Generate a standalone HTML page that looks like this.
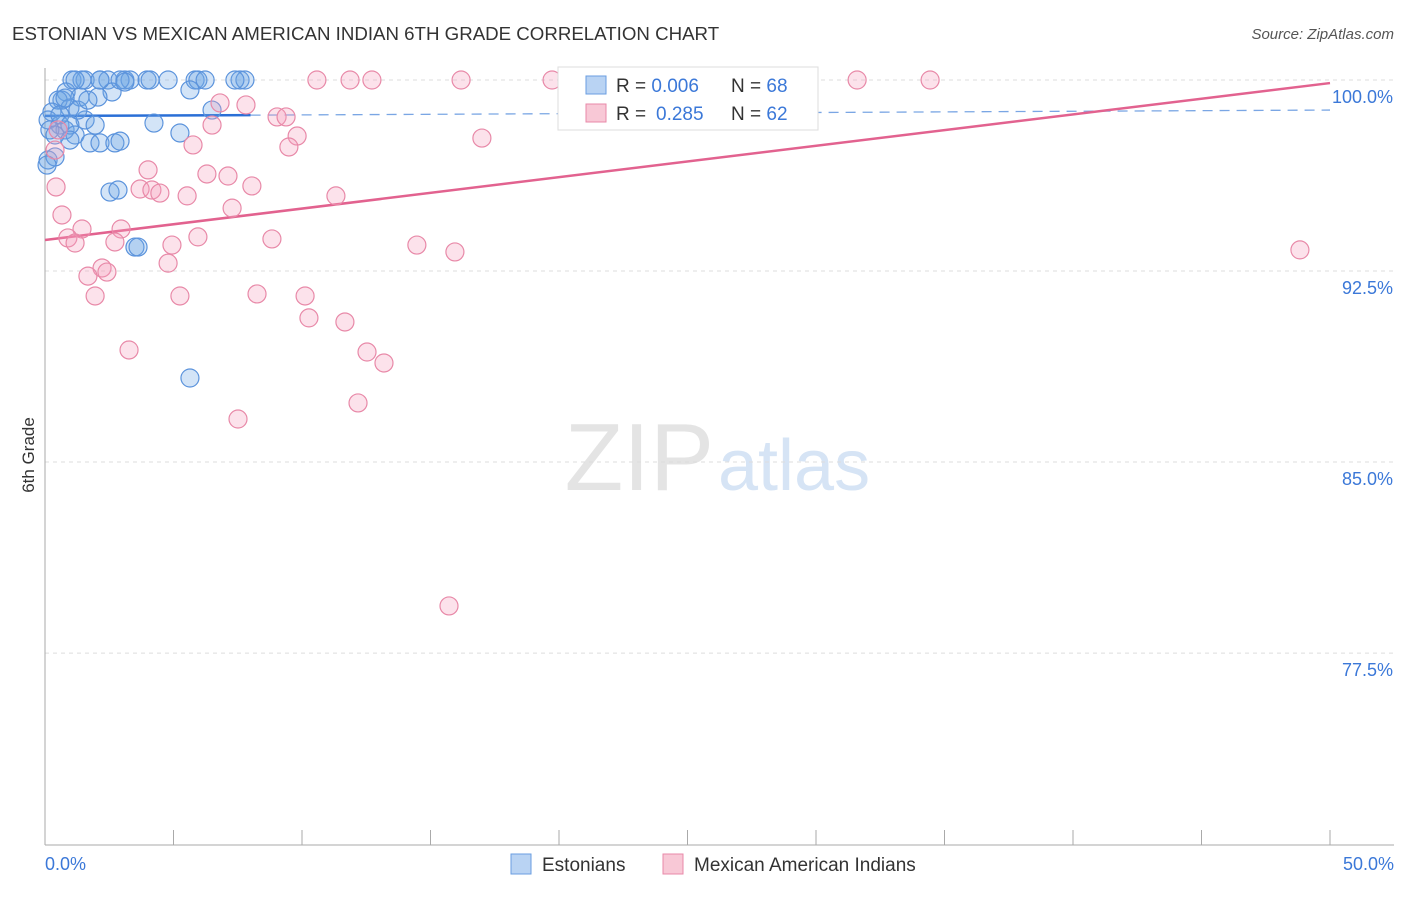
<!DOCTYPE html>
<html><head><meta charset="utf-8"><style>
body{margin:0;background:#fff;font-family:"Liberation Sans",sans-serif}
svg text{font-family:"Liberation Sans",sans-serif}
</style></head><body>
<svg id="chart" width="1406" height="892" xmlns="http://www.w3.org/2000/svg">
<text x="12" y="40" font-size="18.7" fill="#333">ESTONIAN VS MEXICAN AMERICAN INDIAN 6TH GRADE CORRELATION CHART</text>
<text x="1394" y="39" font-size="15" fill="#555" font-style="italic" text-anchor="end">Source: ZipAtlas.com</text>
<text x="714" y="490" font-size="96" fill="#e4e4e4" text-anchor="end" font-family="Liberation Serif">ZIP</text>
<text x="718" y="490" font-size="72" fill="#d6e4f5">atlas</text>
<g id="grid"></g><g id="axes"></g><g id="trend"></g><g id="pts"></g>
<text x="34" y="455" font-size="17" fill="#333" text-anchor="middle" transform="rotate(-90 34 455)">6th Grade</text>
<g>
<rect x="558" y="67" width="260" height="63" fill="#fff" stroke="#ddd"/>
<rect x="586" y="76" width="20" height="18" fill="#b9d3f3" stroke="#6a9ee0"/>
<text x="616" y="92" font-size="19" fill="#333">R = <tspan fill="#3b78d8">0.006</tspan></text>
<text x="731" y="92" font-size="19" fill="#333">N = <tspan fill="#3b78d8">68</tspan></text>
<rect x="586" y="104" width="20" height="18" fill="#f8c8d6" stroke="#e889a8"/>
<text x="616" y="120" font-size="19" fill="#333">R = </text>
<text x="656" y="120" font-size="19" fill="#3b78d8">0.285</text>
<text x="731" y="120" font-size="19" fill="#333">N = <tspan fill="#3b78d8">62</tspan></text>
</g>
<g>
<rect x="511" y="854" width="20" height="20" fill="#b9d3f3" stroke="#6a9ee0"/>
<text x="542" y="871" font-size="19" fill="#333">Estonians</text>
<rect x="663" y="854" width="20" height="20" fill="#f8c8d6" stroke="#e889a8"/>
<text x="694" y="871" font-size="19" fill="#333">Mexican American Indians</text>
</g>
</svg>
<script>
const blueX=[1.05,1.56,2.14,2.45,3.11,3.31,3.97,4.09,4.79,5.84,5.95,7.59,7.78,2.61,5.64,2.06,1.36,0.82,0.66,0.51,0.97,0.27,0.12,0.58,0.78,1.56,1.95,1.17,1.75,2.14,2.72,2.92,4.24,5.25,6.5,2.53,2.84,3.5,3.62,5.64,0.19,0.12,0.39,0.08,0.58,0.97,1.28,1.67,0.78,0.39,0.97,2.14,1.44,2.92,6.23,7.39,3.11,1.17];
const blueY=[100,100,100,100,100,100,100,100,100,100,100,100,100,99.53,99.61,99.33,99.33,99.53,99.21,99.21,98.9,98.74,98.43,98.23,98.04,98.43,98.23,97.84,97.53,97.53,97.53,97.6,98.31,97.92,98.82,95.6,95.68,93.44,93.44,88.3,98.04,96.86,96.98,96.66,98.63,98.23,98.82,99.21,99.29,97.84,97.64,100,100,100,100,100,99.92,100];
const pinkX=[10.58,11.87,12.72,16.19,19.73,26.26,29.26,31.6,34.44,6.81,7.82,9.03,9.38,9.81,9.49,17.0,6.5,5.76,4.01,6.3,7.12,8.05,3.7,4.16,4.47,5.53,7.28,11.32,0.43,0.66,1.44,2.96,0.89,1.17,2.72,4.94,5.95,8.83,14.47,15.95,48.83,4.79,2.22,2.41,1.67,1.95,5.25,8.25,10.12,10.27,11.67,3.27,12.53,13.19,12.18,7.51,15.72,0.39,0.51];
const pinkY=[100,100,100,100,100,100,100,100,100,99.1,99.02,98.55,98.55,97.8,97.37,97.72,98.23,97.45,96.47,96.31,96.23,95.84,95.72,95.68,95.56,95.45,94.97,95.45,95.8,94.7,94.15,94.15,93.8,93.6,93.64,93.52,93.84,93.76,93.52,93.25,93.33,92.81,92.62,92.46,92.3,91.52,91.52,91.6,91.52,90.66,90.5,89.4,89.32,88.89,87.32,86.69,79.35,97.25,98.04];
const yTicks=[100,92.5,85,77.5];
const yTickLabels=["100.0%","92.5%","85.0%","77.5%"];
const blueTrend=[[0,98.59],[8,98.62],[50,98.82]];
const pinkTrend=[[0,93.72],[50,99.88]];
const NS="http://www.w3.org/2000/svg";
const sx=v=>45+v*25.7, sy=v=>80+(100-v)*25.47;
function mk(p,t,a){const e=document.createElementNS(NS,t);for(const k in a)e.setAttribute(k,a[k]);document.getElementById(p).appendChild(e);return e;}
yTicks.forEach((t,i)=>{
 const l=mk('grid','line',{x1:45,x2:1394,y1:sy(t),y2:sy(t),stroke:'#ddd','stroke-dasharray':'4,4'});
 
 
 const tx=mk('grid','text',{x:1393,y:sy(t)+23,'font-size':18,fill:'#3b78d8','text-anchor':'end'});
 tx.textContent=yTickLabels[i];
 
 
});
let a=mk('axes','line',{x1:45,x2:45,y1:68,y2:845,stroke:'#aaa'});

a=mk('axes','line',{x1:45,x2:1394,y1:845,y2:845,stroke:'#aaa'});

for(let v=0;v<=50;v+=5){const t=mk('axes','line',{x1:sx(v),x2:sx(v),y1:830,y2:845,stroke:'#aaa'});
 
 }
let t=mk('axes','text',{x:45,y:870,'font-size':18,fill:'#3b78d8'});t.textContent='0.0%';

t=mk('axes','text',{x:1394,y:870,'font-size':18,fill:'#3b78d8','text-anchor':'end'});t.textContent='50.0%';

blueX.forEach((x,i)=>{const c=mk('pts','circle',{cx:sx(x),cy:sy(blueY[i]),r:9,fill:'rgba(110,165,230,0.3)',stroke:'#5b93dc','stroke-width':1.2});
 
 });
pinkX.forEach((x,i)=>{const c=mk('pts','circle',{cx:sx(x),cy:sy(pinkY[i]),r:9,fill:'rgba(245,160,190,0.3)',stroke:'#e889a8','stroke-width':1.2});
 
 });
let l=mk('trend','line',{x1:sx(blueTrend[0][0]),y1:sy(blueTrend[0][1]),x2:sx(blueTrend[1][0]),y2:sy(blueTrend[1][1]),stroke:'#2a6fd6','stroke-width':2.5});

l=mk('trend','line',{x1:sx(blueTrend[1][0]),y1:sy(blueTrend[1][1]),x2:sx(blueTrend[2][0]),y2:sy(blueTrend[2][1]),stroke:'#7aa6e4','stroke-width':1.3,'stroke-dasharray':'10,7'});

l=mk('trend','line',{x1:sx(pinkTrend[0][0]),y1:sy(pinkTrend[0][1]),x2:sx(pinkTrend[1][0]),y2:sy(pinkTrend[1][1]),stroke:'#e2628f','stroke-width':2.5});

</script>
</body></html>
